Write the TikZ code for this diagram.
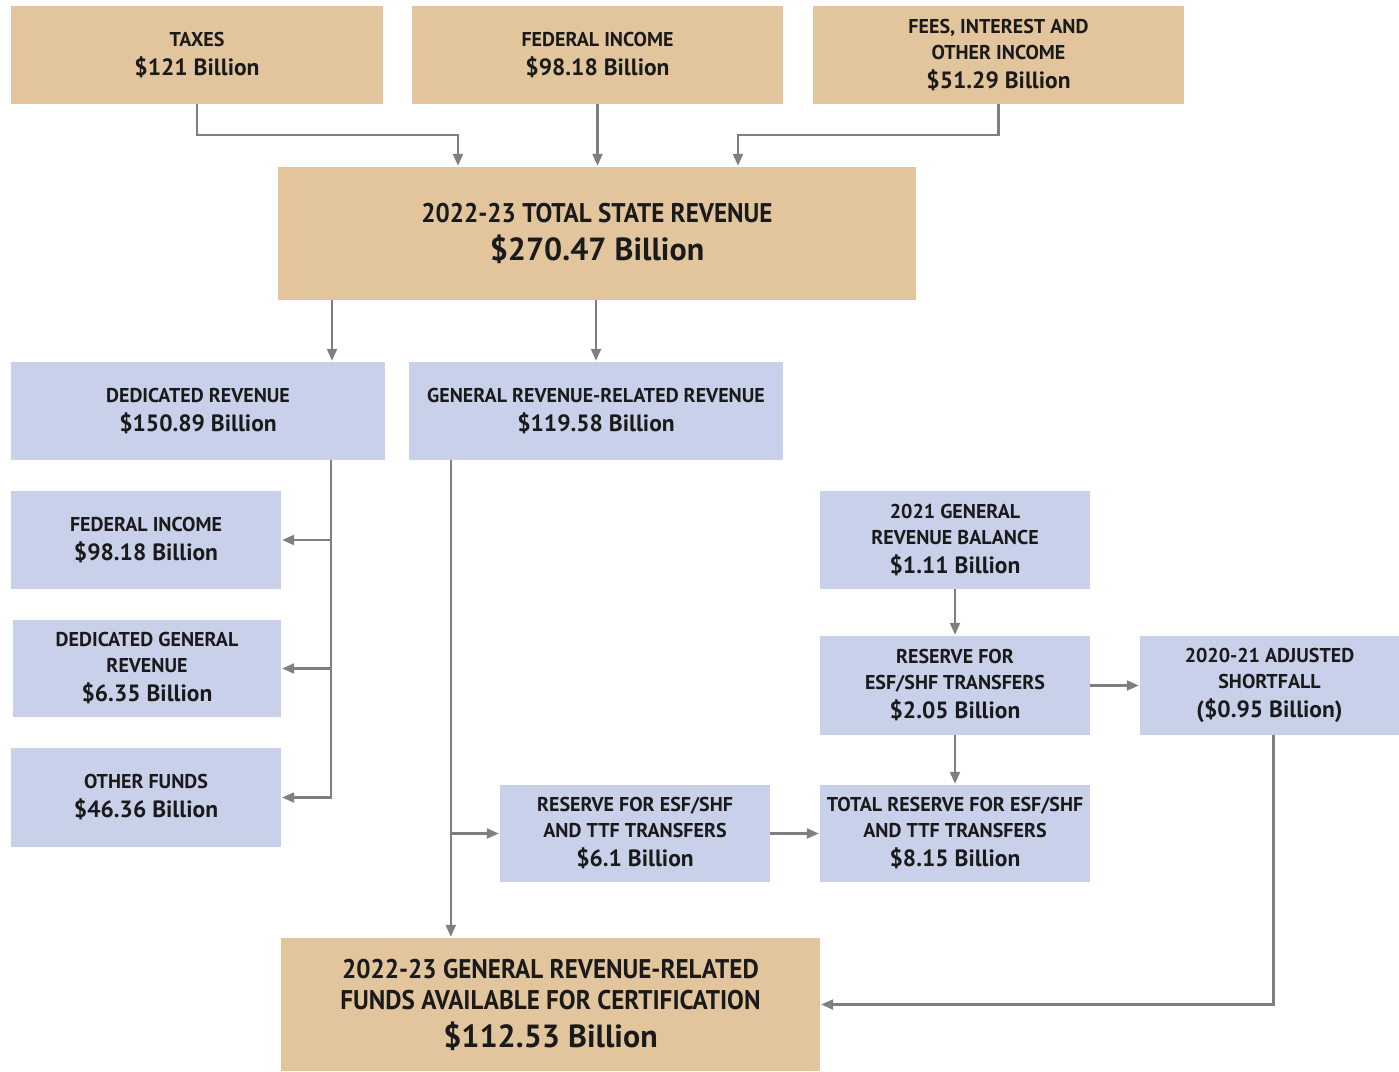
\documentclass[tikz,border=0pt]{standalone}
\usepackage{fontspec}
\setmainfont{PT Sans}
\newfontfamily\condfont[FakeStretch=0.93]{PT Sans}
\usetikzlibrary{arrows.meta,calc}
\definecolor{tanc}{HTML}{E3C59D}
\definecolor{lavc}{HTML}{C9D0EA}
\definecolor{linec}{HTML}{7F7F7F}
\definecolor{txtc}{HTML}{1A1A1A}
\newcommand{\amtS}{\fontsize{23.5}{26}\selectfont}
\newcommand{\amtL}{\rmfamily\bfseries\fontsize{32}{31}\selectfont}
\begin{document}
\begin{tikzpicture}[x=1pt,y=-1pt,
  basebox/.style={inner sep=0pt, align=center, text=txtc, font=\bfseries\fontsize{20}{26}\selectfont},
  tanbox/.style={basebox, fill=tanc},
  lavbox/.style={basebox, fill=lavc},
  bigbox/.style={font=\condfont\bfseries\fontsize{27}{31}\selectfont},
  conn/.style={draw=linec, line width=2.2pt},
  arr/.style={conn, -{Triangle[length=12pt,width=10pt]}, shorten >=1pt}]
\useasboundingbox (0,0) rectangle (1399,1071);
% top row
\node[tanbox, minimum width=372pt, minimum height=98pt] (taxes) at (197,55) {TAXES\\[3pt]{\amtS \$121 Billion}};
\node[tanbox, minimum width=371pt, minimum height=98pt] (fed) at (597.5,55) {FEDERAL INCOME\\[3pt]{\amtS \$98.18 Billion}};
\node[tanbox, minimum width=371pt, minimum height=98pt] (fees) at (998.5,55) {FEES, INTEREST AND\\OTHER INCOME\\[3pt]{\amtS \$51.29 Billion}};
% total
\node[tanbox, bigbox, minimum width=638pt, minimum height=133pt] (total) at (597,233.5) {2022-23 TOTAL STATE REVENUE\\[7pt]{\amtL \$270.47 Billion}};
% second row
\node[lavbox, minimum width=374pt, minimum height=98pt] (dr) at (198,411) {DEDICATED REVENUE\\[3pt]{\amtS \$150.89 Billion}};
\node[lavbox, minimum width=374pt, minimum height=98pt] (grr) at (596,411) {GENERAL REVENUE-RELATED REVENUE\\[3pt]{\amtS \$119.58 Billion}};
% left column
\node[lavbox, minimum width=270pt, minimum height=98pt] (fi2) at (146,540) {FEDERAL INCOME\\[3pt]{\amtS \$98.18 Billion}};
\node[lavbox, minimum width=268pt, minimum height=97pt] (dgr) at (147,668.5) {DEDICATED GENERAL\\REVENUE\\[3pt]{\amtS \$6.35 Billion}};
\node[lavbox, minimum width=270pt, minimum height=99pt] (of) at (146,797.5) {OTHER FUNDS\\[3pt]{\amtS \$46.36 Billion}};
% right cluster
\node[lavbox, minimum width=270pt, minimum height=98pt] (bal) at (955,540) {2021 GENERAL\\REVENUE BALANCE\\[3pt]{\amtS \$1.11 Billion}};
\node[lavbox, minimum width=270pt, minimum height=99pt] (res) at (955,685.5) {RESERVE FOR\\ESF/SHF TRANSFERS\\[3pt]{\amtS \$2.05 Billion}};
\node[lavbox, minimum width=259pt, minimum height=99pt] (sf) at (1269.5,685.5) {2020-21 ADJUSTED\\SHORTFALL\\[3pt]{\amtS (\$0.95 Billion)}};
\node[lavbox, minimum width=270pt, minimum height=97pt] (rttf) at (635,833.5) {RESERVE FOR ESF/SHF\\AND TTF TRANSFERS\\[3pt]{\amtS \$6.1 Billion}};
\node[lavbox, minimum width=270pt, minimum height=97pt] (tot) at (955,833.5) {TOTAL RESERVE FOR ESF/SHF\\AND TTF TRANSFERS\\[3pt]{\amtS \$8.15 Billion}};
% bottom
\node[tanbox, bigbox, minimum width=539pt, minimum height=133pt] (bot) at (550.5,1004.5) {2022-23 GENERAL REVENUE-RELATED\\FUNDS AVAILABLE FOR CERTIFICATION\\[7pt]{\amtL \$112.53 Billion}};
% connectors top
\coordinate (jt) at (0,135);
\draw[arr] (taxes.south) -- (taxes.south |- jt) -| ([xshift=-139pt]total.north);
\draw[arr] (fed.south) -- (fed.south |- total.north);
\draw[arr] (fees.south) -- (fees.south |- jt) -| ([xshift=141pt]total.north);
% total to second row
\draw[arr] ([xshift=134pt]dr.north |- total.south) -- ([xshift=134pt]dr.north);
\draw[arr] (grr.north |- total.south) -- (grr.north);
% dedicated trunk
\coordinate (dt) at ([xshift=133pt]dr.south);
\draw[conn] (dt) -- (dt |- of.east);
\draw[arr] (dt |- fi2.east) -- (fi2.east);
\draw[arr] (dt |- dgr.east) -- (dgr.east);
\draw[arr] ([xshift=1.1pt]dt |- of.east) -- (of.east);
% general trunk
\coordinate (gt) at ([xshift=42pt]grr.south west);
\draw[arr] (gt) -- (gt |- bot.north);
\draw[arr] (gt |- rttf.west) -- (rttf.west);
\draw[arr] (rttf.east) -- (tot.west);
% right cluster
\draw[arr] (bal.south) -- (res.north);
\draw[arr] (res.south) -- (tot.north);
\draw[arr] (res.east) -- (sf.west);
\draw[arr] ([xshift=4pt]sf.south) |- (bot.east);
\end{tikzpicture}
\end{document}
